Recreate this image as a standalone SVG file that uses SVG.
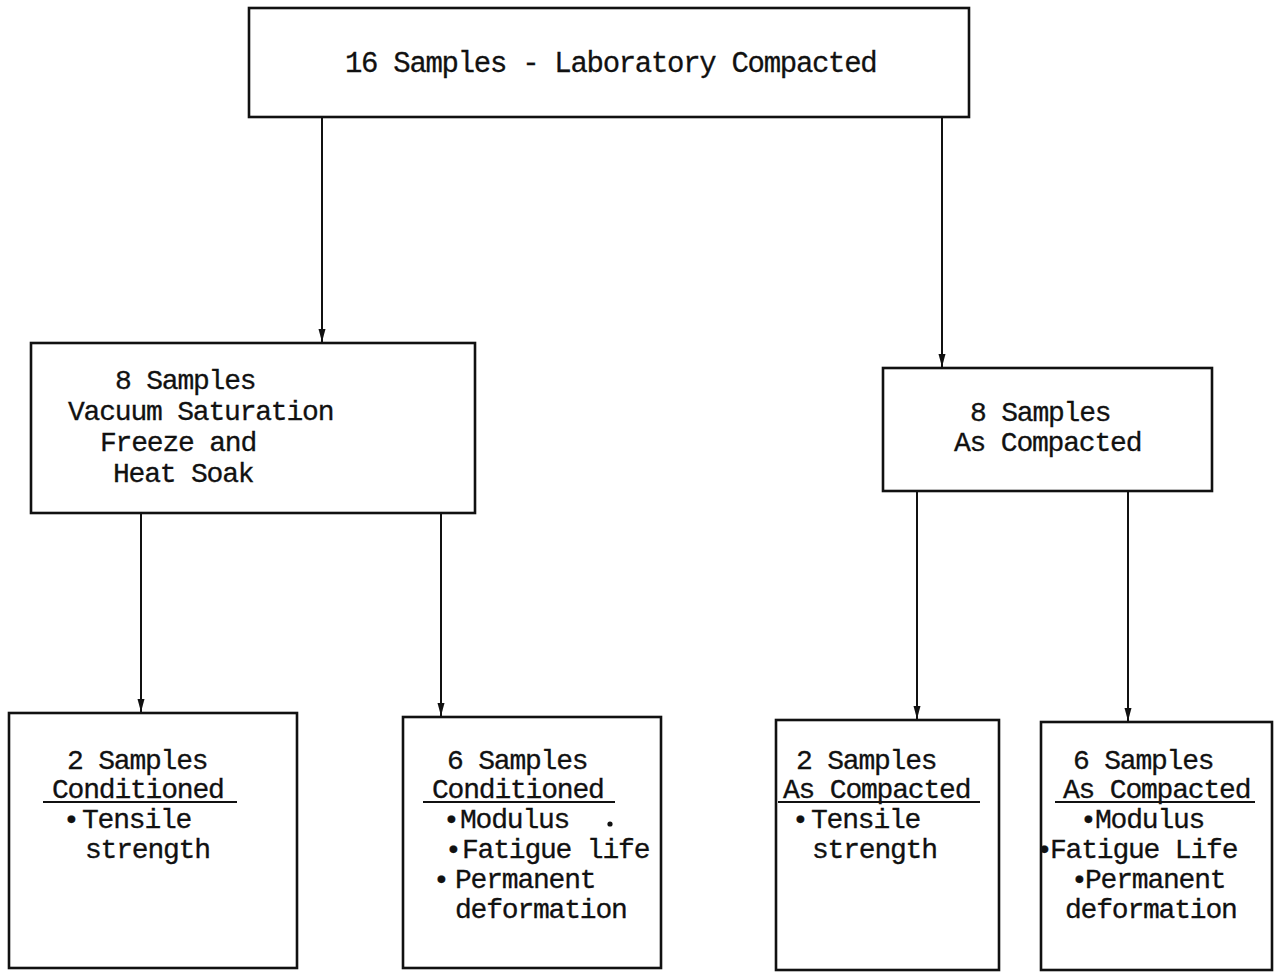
<svg xmlns="http://www.w3.org/2000/svg" width="1284" height="977" viewBox="0 0 1284 977">
<style>
.box{fill:#fff;stroke:#111;stroke-width:2.6}
.t{font-family:"Liberation Mono","Courier New",monospace;font-size:28px;letter-spacing:-1.2px;fill:#111;stroke:#111;stroke-width:0.3}
.c{stroke:#111;stroke-width:2;fill:none}
.u{stroke:#111;stroke-width:2}
</style>
<defs>
<marker id="ah" viewBox="0 0 13 8" refX="13" refY="4" markerWidth="13" markerHeight="8" markerUnits="userSpaceOnUse" orient="auto">
<path d="M0,0.5 L13,4 L0,7.5 Z" fill="#111"/>
</marker>
</defs>
<rect width="1284" height="977" fill="#fff"/>
<g id="connectors">
<line class="c" x1="322" y1="117" x2="322" y2="342" marker-end="url(#ah)"/>
<line class="c" x1="942" y1="117" x2="942" y2="367" marker-end="url(#ah)"/>
<line class="c" x1="141" y1="513" x2="141" y2="712" marker-end="url(#ah)"/>
<line class="c" x1="441" y1="513" x2="441" y2="716" marker-end="url(#ah)"/>
<line class="c" x1="917" y1="491" x2="917" y2="719" marker-end="url(#ah)"/>
<line class="c" x1="1128" y1="491" x2="1128" y2="721" marker-end="url(#ah)"/>
</g>
<g id="n_top">
<rect class="box" x="249" y="8" width="720" height="109"/>
<text class="t" x="345" y="72" style="font-size:29px;letter-spacing:-1.3px">16 Samples - Laboratory Compacted</text>
</g>
<g id="n_conditioned">
<rect class="box" x="31" y="343" width="444" height="170"/>
<text class="t" x="115" y="389">8 Samples</text>
<text class="t" x="68" y="420">Vacuum Saturation</text>
<text class="t" x="100" y="451">Freeze and</text>
<text class="t" x="113" y="482">Heat Soak</text>
</g>
<g id="n_ascompacted">
<rect class="box" x="883" y="368" width="329" height="123"/>
<text class="t" x="970" y="421">8 Samples</text>
<text class="t" x="954" y="451">As Compacted</text>
</g>
<g id="n_b1">
<rect class="box" x="9" y="713" width="288" height="255"/>
<text class="t" x="67" y="769">2 Samples</text>
<text class="t" x="52" y="798">Conditioned</text>
<line class="u" x1="43" y1="802" x2="237" y2="802"/>
<text class="t" y="828"><tspan x="63">•</tspan><tspan x="82">Tensile</tspan></text>
<text class="t" x="85" y="858">strength</text>
</g>
<g id="n_b2">
<rect class="box" x="403" y="717" width="258" height="251"/>
<text class="t" x="447" y="769">6 Samples</text>
<text class="t" x="432" y="798">Conditioned</text>
<line class="u" x1="423" y1="802" x2="615" y2="802"/>
<text class="t" y="828"><tspan x="443">•</tspan><tspan x="460">Modulus</tspan></text>
<circle cx="610" cy="824" r="2.6" fill="#111"/>
<text class="t" y="858"><tspan x="445">•</tspan><tspan x="462">Fatigue life</tspan></text>
<text class="t" y="888"><tspan x="433">•</tspan><tspan x="455">Permanent</tspan></text>
<text class="t" x="455" y="918">deformation</text>
</g>
<g id="n_b3">
<rect class="box" x="776" y="720" width="223" height="250"/>
<text class="t" x="796" y="769">2 Samples</text>
<text class="t" x="783" y="798">As Compacted</text>
<line class="u" x1="778" y1="802" x2="980" y2="802"/>
<text class="t" y="828"><tspan x="792">•</tspan><tspan x="811">Tensile</tspan></text>
<text class="t" x="812" y="858">strength</text>
</g>
<g id="n_b4">
<rect class="box" x="1041" y="722" width="231" height="248"/>
<text class="t" x="1073" y="769">6 Samples</text>
<text class="t" x="1063" y="798">As Compacted</text>
<line class="u" x1="1055" y1="802" x2="1255" y2="802"/>
<text class="t" y="828"><tspan x="1080">•</tspan><tspan x="1095">Modulus</tspan></text>
<text class="t" y="858"><tspan x="1036">•</tspan><tspan x="1050">Fatigue Life</tspan></text>
<text class="t" y="888"><tspan x="1071">•</tspan><tspan x="1085">Permanent</tspan></text>
<text class="t" x="1065" y="918">deformation</text>
</g>
</svg>
